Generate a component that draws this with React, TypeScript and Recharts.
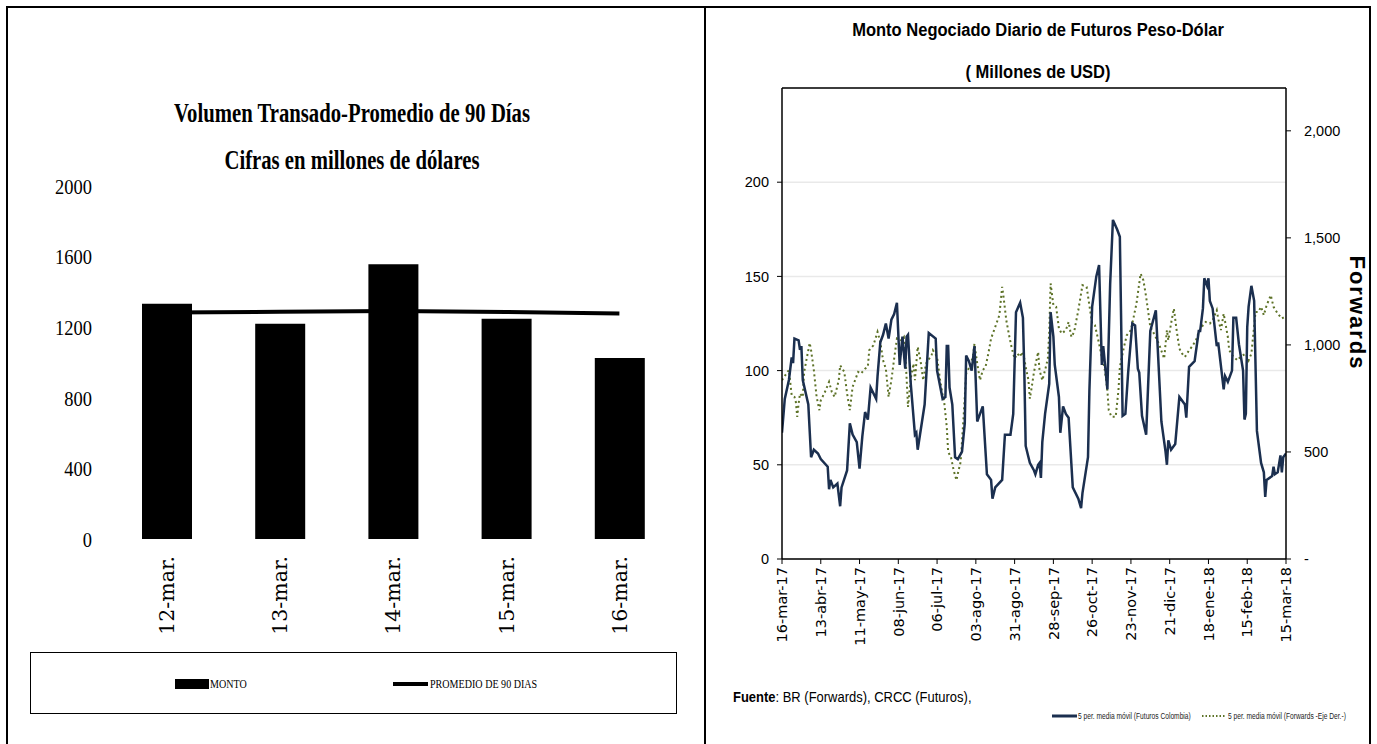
import React from 'react';
import {
  ComposedChart,
  LineChart,
  Bar,
  Line,
  XAxis,
  YAxis,
  CartesianGrid,
  ReferenceLine,
} from 'recharts';

// ---------------- Left chart data ----------------
const leftCategories = ['12-mar.', '13-mar.', '14-mar.', '15-mar.', '16-mar.'];
const montoValues = [1333, 1219, 1556, 1248, 1026];
const promedio90Values = [1283, 1287, 1292, 1286, 1277];
const leftYTicks = [0, 400, 800, 1200, 1600, 2000];

// ---------------- Right chart data ----------------
// x = days elapsed since 16-mar-17
const dateTickDays = [0, 28, 56, 84, 112, 140, 168, 196, 224, 252, 280, 308, 336, 364];
const dateTickLabels = [
  '16-mar-17', '13-abr-17', '11-may-17', '08-jun-17', '06-jul-17', '03-ago-17', '31-ago-17',
  '28-sep-17', '26-oct-17', '23-nov-17', '21-dic-17', '18-ene-18', '15-feb-18', '15-mar-18',
];
const futurosLeftTicks = [0, 50, 100, 150, 200];
const forwardsRightTicks = [0, 500, 1000, 1500, 2000];

const futurosDays = [
  0, 2, 5, 7, 8, 9, 12, 13, 14, 15, 19, 21, 23, 26, 28, 33, 34, 35, 37, 40, 42, 43, 47, 49, 51, 54, 56, 58,
  60, 62, 64, 68, 69, 71, 73, 75, 77, 79, 81, 83, 85, 87, 89, 90, 91, 93, 96, 97, 98, 103, 106, 111, 112,
  116, 118, 119, 120, 121, 123, 125, 127, 130, 132, 133, 135, 137, 139, 141, 145, 148, 151, 152, 154, 159,
  161, 165, 167, 169, 172, 174, 175, 176, 178, 179, 182, 183, 185, 186, 187, 188, 190, 193, 194, 196, 197,
  200, 201, 203, 205, 207, 210, 214, 216, 217, 221, 222, 224, 227, 229, 231, 232, 235, 237, 239, 242, 244,
  246, 248, 250, 253, 255, 257, 258, 260, 263, 266, 270, 274, 277, 278, 279, 281, 284, 287, 291, 292, 294,
  298, 301, 302, 304, 305, 307, 308, 309, 311, 314, 315, 319, 320, 322, 325, 326, 328, 330, 333, 334, 335,
  336, 337, 339, 341, 343, 346, 348, 349, 350, 354, 355, 356, 358, 360, 361, 362, 364,
];
const futurosValues = [
  67, 85, 95, 107, 104, 117, 116, 111, 113, 95, 82, 54, 58, 56, 53, 49, 37, 42, 38, 40, 28, 38, 47, 72, 66, 62, 48, 65,
  78, 74, 91, 85, 97, 115, 119, 125, 117, 127, 130, 136, 103, 118, 101, 118, 119, 93, 66, 67, 58, 82, 120, 117, 100,
  85, 86, 113, 113, 91, 82, 54, 53, 57, 72, 108, 105, 100, 113, 73, 81, 45, 42, 32, 38, 42,
  66, 66, 77, 131, 136, 128, 100, 60, 54, 51, 47, 45, 50, 51, 43, 62, 77, 93, 131, 118, 103,
  86, 67, 81, 77, 75, 38, 32, 27, 35, 54, 89, 134, 150, 156, 103, 113, 90, 146, 180, 175, 171,
  76, 77, 99, 125, 124, 101, 99, 76, 66, 121, 132, 73, 57, 50, 63, 58, 61, 86, 82, 75, 102,
  105, 121, 121, 133, 149, 145, 149, 137, 133, 113, 115, 90, 97, 94, 100, 128, 128, 114, 100, 74, 77,
  123, 134, 145, 137, 68, 51, 46, 33, 42, 44, 49, 45, 46, 55, 46, 54, 56,
];

const forwardsDays = [
  0, 4, 5, 7, 9, 10, 11, 12, 13, 15, 16, 20, 21, 23, 25, 27, 28, 31, 34, 36, 38, 41, 42, 45, 47, 49, 51, 55, 57,
  60, 62, 63, 66, 69, 71, 73, 75, 77, 79, 81, 83, 86, 88, 89, 91, 93, 95, 96, 98, 100, 102, 104, 108, 109, 112,
  114, 116, 117, 119, 120, 122, 124, 126, 127, 129, 131, 133, 136, 138, 139, 141, 143, 145, 147, 149, 151, 154,
  157, 159, 160, 162, 164, 166, 168, 170, 172, 173, 175, 176, 178, 179, 180, 182, 185, 186, 188, 190, 192, 193,
  194, 196, 198, 200, 202, 205, 207, 209, 211, 214, 217, 220, 222, 224, 226, 229, 231, 233, 235, 236, 238, 241,
  243, 244, 247, 249, 252, 254, 256, 258, 259, 261, 263, 266, 268, 271, 273, 276, 278, 279, 281, 283, 285, 287,
  289, 291, 294, 296, 299, 301, 304, 306, 309, 311, 314, 315, 317, 319, 322, 323, 326, 329, 331, 335, 337, 339,
  342, 344, 346, 348, 350, 353, 355, 358, 361, 363,
];
const forwardsValues = [
  835, 874, 882, 765, 757, 734, 664, 726, 773, 757, 874, 1009, 975, 882, 757, 695, 741, 780, 827, 780, 757, 835, 905, 874, 773, 695, 804, 874, 866,
  889, 897, 975, 998, 1061, 1014, 928, 889, 757, 835, 936, 1030, 1022, 1037, 975, 710, 843, 913, 835, 991, 928, 835, 913, 952, 975, 944,
  843, 765, 741, 617, 500, 477, 414, 368, 399, 453, 648, 866, 905, 952, 1006, 913, 835, 882, 897, 959, 1030, 1084,
  1139, 1271, 1224, 1115, 1045, 983, 936, 959, 944, 967, 936, 897, 835, 749, 788, 874, 967, 882, 835, 882, 936, 1061,
  1287, 1185, 1178, 1076, 1053, 1069, 1107, 1037, 1061, 1162, 1279, 1271, 1185, 1100, 1092, 1006, 944, 889, 788, 695, 664, 664,
  788, 897, 991, 1045, 1069, 1131, 1193, 1287, 1333, 1302, 1224, 1084, 1061, 1022, 991, 936, 1069, 1022, 1100, 1170, 1069, 983,
  959, 944, 975, 991, 1022, 1061, 1092, 1107, 1100, 1115, 1162, 1123, 1069, 1146, 1037, 975, 944, 928, 944, 959, 928, 959,
  1154, 1154, 1178, 1139, 1185, 1232, 1178, 1146, 1123, 1131,
];

// ---------------- Build library tables ----------------
const leftData = leftCategories.map((c, i) => ({
  cat: c,
  monto: montoValues[i],
  promedio: promedio90Values[i],
}));
const futurosData = futurosDays.map((d, i) => ({ day: d, futuros: futurosValues[i] }));
const forwardsData = forwardsDays.map((d, i) => ({ day: d, forwards: forwardsValues[i] }));

const NAVY = '#1b2f4f';
const OLIVE = '#5d7227';

// Left chart geometry
const L_W = 705;
const L_H = 744;
const L_TOP = 186;
const L_BOTTOM = 539;
const L_LEFT = 110;
const L_RIGHT = 676;

const LeftYTick = (props: any) => {
  const { y, payload } = props;
  return (
    <text
      transform={`translate(92 ${y}) scale(0.84 1)`}
      x={0}
      y={0}
      dy="0.35em"
      textAnchor="end"
      fontFamily="'Liberation Serif', 'Times New Roman', serif"
      fontSize={22}
      fill="#000"
    >
      {payload.value}
    </text>
  );
};

const LeftXTick = (props: any) => {
  const { x, payload } = props;
  const y = L_BOTTOM + 17;
  return (
    <text
      x={x}
      y={y}
      transform={`rotate(-90, ${x}, ${y})`}
      textAnchor="end"
      dy="0.36em"
      fontFamily="'DejaVu Serif', serif"
      fontSize={20.5}
      fill="#000"
    >
      {payload.value}
    </text>
  );
};

const RightXTick = (props: any) => {
  const { x, y, payload } = props;
  const idx = dateTickDays.indexOf(payload.value);
  const label = idx >= 0 ? dateTickLabels[idx] : '';
  return (
    <text
      x={x}
      y={y}
      transform={`rotate(-90, ${x}, ${y})`}
      textAnchor="end"
      dy="0.36em"
      fontFamily="'DejaVu Sans', Verdana, sans-serif"
      fontSize={14.5}
      fill="#000"
    >
      {label}
    </text>
  );
};

const rightTickFormatter = (v: number) => (v === 0 ? '-' : v.toLocaleString('en-US'));

// Right chart geometry (local to its 672px wide box that starts at x=705)
const R_X0 = 705;
const R_W = 672;
const R_H = 744;

export default function App() {
  const serif = "'Liberation Serif', 'Times New Roman', serif";
  const sans = "'Liberation Sans', Arial, sans-serif";
  return (
    <div
      style={{
        position: 'absolute',
        left: 0,
        top: 0,
        width: 1377,
        height: 744,
        background: '#fff',
        overflow: 'hidden',
      }}
    >
      {/* Left chart */}
      <div style={{ position: 'absolute', left: 0, top: 0 }}>
        <ComposedChart
          width={L_W}
          height={L_H}
          data={leftData}
          margin={{ top: L_TOP, right: L_W - L_RIGHT, left: 0, bottom: L_H - L_BOTTOM - 100 }}
        >
          <XAxis
            dataKey="cat"
            axisLine={false}
            tickLine={false}
            height={100}
            interval={0}
            tick={<LeftXTick />}
          />
          <YAxis
            width={L_LEFT}
            domain={[0, 2000]}
            ticks={leftYTicks}
            axisLine={false}
            tickLine={false}
            interval={0}
            tick={<LeftYTick />}
          />
          <Bar dataKey="monto" fill="#000" barSize={50} isAnimationActive={false} />
          <Line
            dataKey="promedio"
            stroke="#000"
            strokeWidth={4}
            dot={false}
            type="linear"
            isAnimationActive={false}
          />
        </ComposedChart>
      </div>

      {/* Right chart */}
      <div style={{ position: 'absolute', left: R_X0, top: 0 }}>
        <LineChart
          width={R_W}
          height={R_H}
          margin={{ top: 88, right: 21, left: 37, bottom: R_H - 559 - 90 }}
        >
          <CartesianGrid yAxisId="left" vertical={false} stroke="#e9e9e9" strokeWidth={1.5} />
          <XAxis
            dataKey="day"
            type="number"
            domain={[0, 364]}
            ticks={dateTickDays}
            interval={0}
            height={90}
            axisLine={{ stroke: '#000', strokeWidth: 1.5 }}
            tickLine={{ stroke: '#000' }}
            tickSize={5}
            tickMargin={3}
            tick={<RightXTick />}
            allowDataOverflow
          />
          <YAxis
            yAxisId="left"
            width={40}
            domain={[0, 250]}
            ticks={futurosLeftTicks}
            interval={0}
            axisLine={{ stroke: '#000', strokeWidth: 1.5 }}
            tickLine={{ stroke: '#000' }}
            tickSize={5}
            tickMargin={8}
            tick={{ fill: '#000', fontSize: 14.5, fontFamily: sans }}
          />
          <YAxis
            yAxisId="right"
            orientation="right"
            width={70}
            domain={[0, 2200]}
            ticks={forwardsRightTicks}
            interval={0}
            axisLine={{ stroke: '#000', strokeWidth: 1.5 }}
            tickLine={{ stroke: '#000' }}
            tickSize={5}
            tickMargin={13}
            tickFormatter={rightTickFormatter}
            tick={{ fill: '#000', fontSize: 14.5, fontFamily: sans, textAnchor: 'start' }}
          />
          <ReferenceLine yAxisId="left" y={250} stroke="#000" strokeWidth={1.5} />
          <Line
            yAxisId="right"
            data={forwardsData}
            dataKey="forwards"
            stroke={OLIVE}
            strokeWidth={2}
            strokeDasharray="2 3"
            dot={false}
            type="linear"
            isAnimationActive={false}
          />
          <Line
            yAxisId="left"
            data={futurosData}
            dataKey="futuros"
            stroke={NAVY}
            strokeWidth={2.5}
            dot={false}
            type="linear"
            isAnimationActive={false}
          />
        </LineChart>
      </div>

      {/* Text overlay: titles, legends, frame */}
      <svg
        width={1377}
        height={744}
        style={{ position: 'absolute', left: 0, top: 0, pointerEvents: 'none' }}
      >
        {/* frame */}
        <line x1={6} y1={7} x2={1371} y2={7} stroke="#000" strokeWidth={2} />
        <line x1={7} y1={6} x2={7} y2={744} stroke="#000" strokeWidth={2} />
        <line x1={705} y1={6} x2={705} y2={744} stroke="#000" strokeWidth={2} />
        <line x1={1370} y1={6} x2={1370} y2={744} stroke="#000" strokeWidth={2} />

        {/* left titles */}
        <text
          transform="translate(352 122) scale(0.74 1)"
          textAnchor="middle"
          fontFamily={serif}
          fontWeight="bold"
          fontSize={28}
          fill="#000"
        >
          Volumen Transado-Promedio de 90 Días
        </text>
        <text
          transform="translate(352 169) scale(0.74 1)"
          textAnchor="middle"
          fontFamily={serif}
          fontWeight="bold"
          fontSize={28}
          fill="#000"
        >
          Cifras en millones de dólares
        </text>

        {/* left legend box */}
        <rect x={30.5} y={652.5} width={646} height={61} fill="none" stroke="#000" strokeWidth={1} />
        <rect x={175} y={679} width={34} height={10} fill="#000" />
        <text
          transform="translate(210 688) scale(0.84 1)"
          fontFamily={serif}
          fontSize={12}
          fill="#000"
        >
          MONTO
        </text>
        <line x1={393} y1={684} x2={428} y2={684} stroke="#000" strokeWidth={4} />
        <text
          transform="translate(430 688) scale(0.84 1)"
          fontFamily={serif}
          fontSize={12}
          fill="#000"
        >
          PROMEDIO DE 90 DIAS
        </text>

        {/* right titles */}
        <text
          transform="translate(1038 36) scale(0.87 1)"
          textAnchor="middle"
          fontFamily={sans}
          fontWeight="bold"
          fontSize={19}
          fill="#000"
        >
          Monto Negociado Diario de Futuros Peso-Dólar
        </text>
        <text
          transform="translate(1038 78) scale(0.87 1)"
          textAnchor="middle"
          fontFamily={sans}
          fontWeight="bold"
          fontSize={19}
          fill="#000"
        >
          ( Millones de USD)
        </text>

        {/* right axis title */}
        <text
          transform="translate(1350 313) rotate(90)"
          textAnchor="middle"
          fontFamily={sans}
          fontWeight="bold"
          fontSize={22}
          letterSpacing={2}
          fill="#000"
        >
          Forwards
        </text>

        {/* source */}
        <text
          transform="translate(733 702) scale(0.865 1)"
          fontFamily={sans}
          fontSize={15}
          fill="#000"
        >
          <tspan fontWeight="bold">Fuente</tspan>: BR (Forwards), CRCC (Futuros),
        </text>

        {/* right legend */}
        <line x1={1052} y1={716} x2={1077} y2={716} stroke={NAVY} strokeWidth={3} />
        <text
          transform="translate(1078 719) scale(0.74 1)"
          fontFamily={sans}
          fontSize={9}
          fill="#222"
        >
          5 per. media móvil (Futuros Colombia)
        </text>
        <line
          x1={1202}
          y1={716}
          x2={1225}
          y2={716}
          stroke={OLIVE}
          strokeWidth={2}
          strokeDasharray="1.5 2"
        />
        <text
          transform="translate(1228 719) scale(0.74 1)"
          fontFamily={sans}
          fontSize={9}
          fill="#222"
        >
          5 per. media móvil (Forwards -Eje Der.-)
        </text>
      </svg>
    </div>
  );
}
